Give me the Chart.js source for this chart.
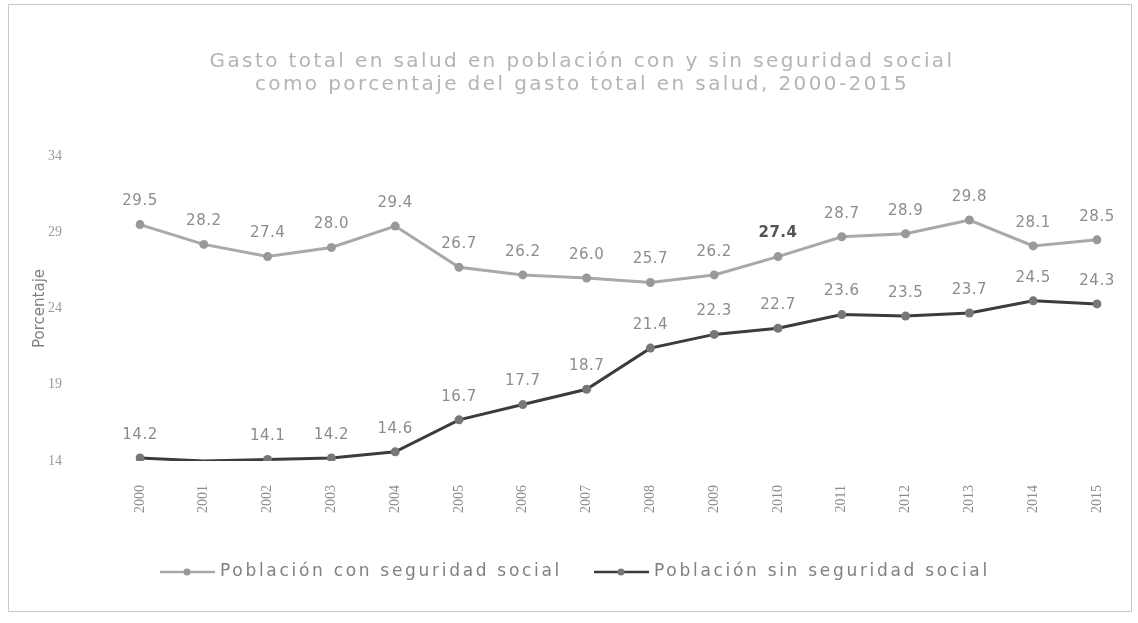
<!DOCTYPE html>
<html>
<head>
<meta charset="utf-8">
<script src="https://cdn.jsdelivr.net/npm/chart.js@4/dist/chart.umd.min.js"></script>
<style>
  html, body { margin: 0; padding: 0; background: #fff; }
  #wrap { position: relative; width: 1138px; height: 623px; }
  #frame { position: absolute; left: 8px; top: 4px; width: 1122px; height: 606px; border: 1px solid #c8c8c8; pointer-events: none; }
</style>
</head>
<body>
<div id="wrap">
  <canvas id="grafica" width="1138" height="623"></canvas>
  <div id="frame"></div>
</div>
<script>
// Datos
const anios = ['2000', '2001', '2002', '2003', '2004', '2005', '2006', '2007',
               '2008', '2009', '2010', '2011', '2012', '2013', '2014', '2015'];
const conSeguridad = [29.5, 28.2, 27.4, 28.0, 29.4, 26.7, 26.2, 26.0, 25.7, 26.2, 27.4, 28.7, 28.9, 29.8, 28.1, 28.5];
const sinSeguridad = [14.2, 14.0, 14.1, 14.2, 14.6, 16.7, 17.7, 18.7, 21.4, 22.3, 22.7, 23.6, 23.5, 23.7, 24.5, 24.3];
const ticksY = [14, 19, 24, 29, 34];
const titulo = ['Gasto total en salud en población con y sin seguridad social',
                'como porcentaje del gasto total en salud, 2000-2015'];

const fuente = 'DejaVu Sans';
const colorCon = '#a9a9a9';
const colorSin = '#3c3c3c';
const puntoCon = '#999';
const puntoSin = '#777';

// etiquetas de valores sobre los puntos
const etiquetasValores = {
    id: 'etiquetasValores',
    afterDatasetsDraw(chart) {
        const ctx = chart.ctx;
        ctx.save();
        ctx.textAlign = 'center';
        ctx.textBaseline = 'middle';
        ctx.letterSpacing = '0.5px';
        chart.data.datasets.forEach((ds, i) => {
            const meta = chart.getDatasetMeta(i);
            meta.data.forEach((pt, j) => {
                if (i === 1 && j === 1) return; // sin etiqueta en 2001
                const negrita = (i === 0 && j === 10);
                ctx.font = (negrita ? 'bold ' : '') + '15px ' + fuente;
                ctx.fillStyle = negrita ? '#555' : '#8c8c8c';
                ctx.fillText(ds.data[j].toFixed(1), pt.x, pt.y - 23);
            });
        });
        ctx.restore();
    }
};

// titulo y leyenda espaciados (letra ancha como en el original)
const tituloYLeyenda = {
    id: 'tituloYLeyenda',
    afterDraw(chart) {
        const ctx = chart.ctx;
        ctx.save();
        ctx.letterSpacing = '2.4px';
        ctx.textAlign = 'center';
        ctx.textBaseline = 'middle';
        ctx.font = '20px ' + fuente;
        ctx.fillStyle = '#b4b4b4';
        ctx.fillText(titulo[0], 582, 62);
        ctx.fillText(titulo[1], 582, 85);

        // leyenda
        ctx.textAlign = 'left';
        ctx.font = '17px ' + fuente;
        ctx.letterSpacing = '2.7px';
        const y = 572;
        let x = 160;
        chart.data.datasets.forEach((ds, i) => {
            ctx.strokeStyle = ds.borderColor;
            ctx.lineWidth = 2.5;
            ctx.beginPath(); ctx.moveTo(x, y); ctx.lineTo(x + 55, y); ctx.stroke();
            ctx.fillStyle = ds.pointBackgroundColor;
            ctx.beginPath(); ctx.arc(x + 27, y, 3.5, 0, Math.PI * 2); ctx.fill();
            ctx.fillStyle = '#808080';
            ctx.fillText(ds.label, x + 60, y);
            x += 60 + ctx.measureText(ds.label).width + 32;
        });
        ctx.restore();
    }
};

const ctx = document.getElementById('grafica').getContext('2d');
const grafica = new Chart(ctx, {
    type: 'line',
    data: {
        labels: anios,
        datasets: [{
            label: 'Población con seguridad social',
            data: conSeguridad,
            borderColor: colorCon,
            backgroundColor: puntoCon,
            pointBackgroundColor: puntoCon,
            pointBorderWidth: 0,
            pointRadius: 4.5,
            borderWidth: 3,
            tension: 0
        }, {
            label: 'Población sin seguridad social',
            data: sinSeguridad,
            borderColor: colorSin,
            backgroundColor: puntoSin,
            pointBackgroundColor: puntoSin,
            pointBorderWidth: 0,
            pointRadius: c => (c.dataIndex === 1 ? 0 : 4.5),
            borderWidth: 3,
            tension: 0
        }]
    },
    options: {
        responsive: false,
        animation: false,
        layout: { padding: { left: 0, right: 41, top: 0, bottom: 70 } },
        plugins: {
            // el titulo se dibuja aparte; este solo reserva el espacio
            title: {
                display: true,
                text: titulo,
                color: 'rgba(0,0,0,0)',
                font: { family: fuente, size: 18, weight: 'normal', lineHeight: 1.22 },
                padding: { top: 50, bottom: 62 }
            },
            legend: { display: false },
            tooltip: { enabled: false }
        },
        scales: {
            x: {
                offset: false,
                grid: { display: false },
                border: { display: false },
                ticks: {
                    minRotation: 90,
                    maxRotation: 90,
                    padding: 16,
                    color: '#8c8c8c',
                    font: { family: 'Liberation Serif', size: 14 }
                },
                afterFit(scale) { scale.height = 92; }
            },
            y: {
                min: 14,
                max: 34,
                afterBuildTicks(scale) { scale.ticks = ticksY.map(v => ({ value: v })); },
                grid: { display: false },
                border: { display: false },
                ticks: {
                    padding: 70,
                    color: '#9a9a9a',
                    font: { family: 'Liberation Serif', size: 14 }
                },
                title: {
                    display: true,
                    text: 'Porcentaje',
                    color: '#808080',
                    font: { family: fuente, size: 15 },
                    padding: { top: 31, bottom: 0 }
                },
                afterFit(scale) { scale.width = 140; }
            }
        }
    },
    plugins: [etiquetasValores, tituloYLeyenda]
});
</script>
</body>
</html>
